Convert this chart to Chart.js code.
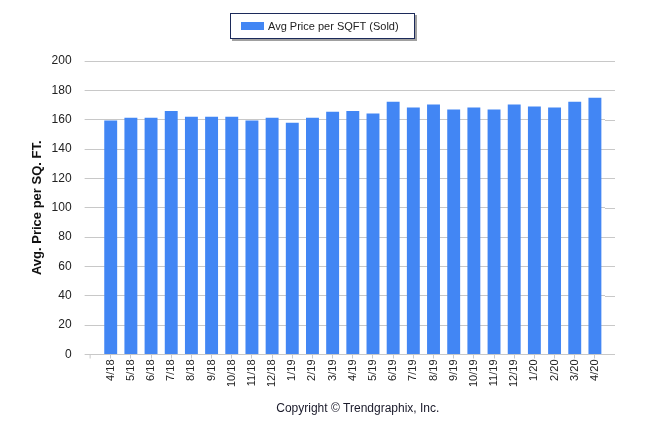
<!DOCTYPE html>
<html>
<head>
<meta charset="utf-8">
<script src="https://cdn.jsdelivr.net/npm/chart.js@4"></script>
<style>
  html, body { margin: 0; padding: 0; background: #fff; }
  #wrap { position: relative; width: 646px; height: 434px; }
</style>
</head>
<body>
<div id="wrap"><canvas id="priceChart" width="646" height="434"></canvas></div>
<script>
const months = ["4/18", "5/18", "6/18", "7/18", "8/18", "9/18", "10/18", "11/18", "12/18",
  "1/19", "2/19", "3/19", "4/19", "5/19", "6/19", "7/19", "8/19", "9/19", "10/19", "11/19",
  "12/19", "1/20", "2/20", "3/20", "4/20"];
const avgPriceSold = [159.5, 161.3, 161.3, 166, 162, 162, 162, 159.5, 161.3,
  158, 161.3, 165.4, 166, 164.3, 172.3, 168.3, 170.3, 167, 168.3, 167,
  170.3, 169, 168.3, 172.3, 175];
const yTicks = [0, 20, 40, 60, 80, 100, 120, 140, 160, 180, 200];

const FONT = "'Liberation Sans', Arial, sans-serif";
const BAR_COLOR = "#4286f4";

// legende mit rahmen, gitterlinien etwas nach rechts verlaengern, copyright
const extras = {
  id: "extras",
  afterDraw(chart) {
    const ctx = chart.ctx;
    const area = chart.chartArea;
    const y = chart.scales.y;
    ctx.save();
    ctx.strokeStyle = "#c8c8c8";
    ctx.lineWidth = 1;
    yTicks.forEach((t) => {
      const py = Math.round(y.getPixelForValue(t)) + 0.5;
      ctx.beginPath();
      ctx.moveTo(area.right, py);
      ctx.lineTo(area.right + 10, py);
      ctx.stroke();
    });
    // kleiner strich am linken ende der x-achse
    const by = Math.round(area.bottom) + 0.5;
    ctx.beginPath();
    ctx.moveTo(area.left - 10.5, by);
    ctx.lineTo(area.left - 10.5, by + 4);
    ctx.stroke();

    // legende
    const label = chart.data.datasets[0].label;
    const x0 = 230.5, y0 = 13.5, w = 184, h = 25;
    ctx.fillStyle = "#a0a0a0";
    ctx.fillRect(x0 + 1.5, y0 + 1.5, w + 1, h + 1);
    ctx.fillStyle = "#fff";
    ctx.fillRect(x0, y0, w, h);
    ctx.strokeStyle = "#1c2a5a";
    ctx.strokeRect(x0, y0, w, h);
    ctx.fillStyle = BAR_COLOR;
    ctx.fillRect(241, 22, 23, 8);
    ctx.fillStyle = "#222";
    ctx.font = "11px " + FONT;
    ctx.textAlign = "left";
    ctx.textBaseline = "middle";
    ctx.fillText(label, 268, 26.5);

    ctx.fillStyle = "#1a1a2a";
    ctx.font = "12px " + FONT;
    ctx.textAlign = "center";
    ctx.fillText("Copyright \u00A9 Trendgraphix, Inc.", (area.left + area.right + 10) / 2, 409);
    ctx.restore();
  }
};

new Chart(document.getElementById("priceChart"), {
  type: "bar",
  data: {
    labels: months,
    datasets: [{
      label: "Avg Price per SQFT (Sold)",
      data: avgPriceSold,
      backgroundColor: BAR_COLOR,
      borderWidth: 0,
      barPercentage: 0.8,
      categoryPercentage: 0.8
    }]
  },
  options: {
    responsive: false,
    animation: false,
    devicePixelRatio: 1,
    layout: { padding: { top: 61, right: 41, bottom: 46, left: 30 } },
    plugins: {
      legend: { display: false },
      tooltip: { enabled: false }
    },
    scales: {
      x: {
        grid: { offset: false, drawOnChartArea: false, drawTicks: true, tickLength: 4, color: "#c8c8c8" },
        border: { color: "#c8c8c8" },
        ticks: {
          color: "#222",
          font: { family: FONT, size: 11 },
          maxRotation: 90,
          minRotation: 90,
          autoSkip: false,
          padding: 1
        }
      },
      y: {
        min: 0,
        max: 200,
        afterBuildTicks(scale) {
          scale.ticks = yTicks.map((v) => ({ value: v }));
        },
        grid: { color: "#c8c8c8", tickLength: 16 },
        border: { display: false },
        ticks: {
          color: "#222",
          font: { family: FONT, size: 12 },
          padding: 13
        },
        title: {
          display: true,
          text: "Avg. Price per SQ. FT.",
          color: "#111",
          font: { family: FONT, size: 13, weight: "bold" },
          padding: { top: 0, bottom: -7 }
        }
      }
    }
  },
  plugins: [extras]
});
</script>
</body>
</html>
